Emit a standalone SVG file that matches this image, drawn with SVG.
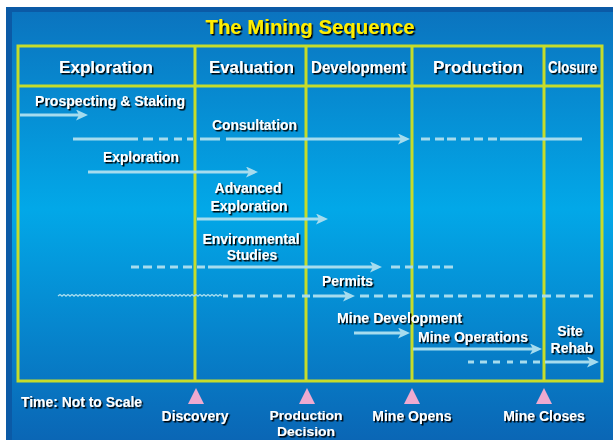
<svg xmlns="http://www.w3.org/2000/svg" width="613" height="440" viewBox="0 0 613 440">
<defs>
<linearGradient id="bg" x1="0" y1="0" x2="0" y2="1">
<stop offset="0" stop-color="#0b74bf"/>
<stop offset="0.46" stop-color="#02a8e8"/>
<stop offset="1" stop-color="#0a66b5"/>
</linearGradient>
<filter id="sh" x="-10%" y="-30%" width="120%" height="160%">
<feDropShadow dx="1.5" dy="1.5" stdDeviation="0.3" flood-color="#000" flood-opacity="1"/>
</filter>
<marker id="ah" viewBox="0 0 12 11" refX="5" refY="5.5" markerWidth="12" markerHeight="11" markerUnits="userSpaceOnUse" orient="auto">
<path d="M0,0 L12,5.5 L0,11 L3,5.5 Z" fill="#a6dcee"/>
</marker>
</defs>
<style>
text{font-family:"Liberation Sans",Arial,sans-serif;font-weight:bold;fill:#fff;filter:url(#sh)}
.t{font-size:20px;fill:#ffee00}
.h{font-size:17px}
.b{font-size:14px}
.s{font-size:13px}
.grid{fill:none;stroke:#c6dc2a;stroke-width:3}
.ln{fill:none;stroke:#a6dcee;stroke-width:3}
.arr{marker-end:url(#ah)}
.wv{fill:none;stroke:#a6dcee;stroke-width:1.4}
.tri{fill:#eeaad0}
</style>
<rect x="6" y="7" width="607" height="433" fill="#0b5aa6"/>
<rect x="12" y="12" width="601" height="428" fill="url(#bg)"/>
<g id="title"><text class="t" x="310" y="34" text-anchor="middle" textLength="209" lengthAdjust="spacingAndGlyphs">The Mining Sequence</text></g>
<g id="grid">
<rect class="grid" x="18" y="46" width="584" height="335"/>
<path class="grid" d="M18,86 H602 M195,46 V381 M306,46 V381 M412,46 V381 M544,46 V381"/>
</g>
<g id="phase-exploration"><text class="h" x="106" y="73" text-anchor="middle" textLength="94" lengthAdjust="spacingAndGlyphs">Exploration</text></g>
<g id="phase-evaluation"><text class="h" x="251.5" y="73" text-anchor="middle" textLength="85" lengthAdjust="spacingAndGlyphs">Evaluation</text></g>
<g id="phase-development"><text class="h" x="358.5" y="73" text-anchor="middle" textLength="95" lengthAdjust="spacingAndGlyphs">Development</text></g>
<g id="phase-production"><text class="h" x="478" y="73" text-anchor="middle" textLength="90" lengthAdjust="spacingAndGlyphs">Production</text></g>
<g id="phase-closure"><text class="h" x="572.5" y="73" text-anchor="middle" textLength="49" lengthAdjust="spacingAndGlyphs">Closure</text></g>
<g id="connectors">
<path class="ln arr" d="M20,115 H81"/>
<path class="ln" d="M73,139 H138 M143,139 H153 M159,139 H168 M174,139 H182 M187,139 H193 M200,139 H220"/>
<path class="ln arr" d="M226,139 H403"/>
<path class="ln" d="M421,139 H430 M435,139 H444 M447,139 H456 M461,139 H470 M474,139 H483 M488,139 H497 M500,139 H582"/>
<path class="ln arr" d="M88,172 H251"/>
<path class="ln arr" d="M197,219 H321"/>
<path class="ln" d="M131,267 H139 M143,267 H152 M157,267 H165 M170,267 H178 M183,267 H192 M197,267 H205"/>
<path class="ln arr" d="M208,267 H375"/>
<path class="ln" d="M391,267 H400 M405,267 H413 M418,267 H428 M432,267 H440 M444,267 H453"/>
<path class="wv" d="M58,296 l2,-1.5 2,1.5 2,-1.5 2,1.5 2,-1.5 2,1.5 2,-1.5 2,1.5 2,-1.5 2,1.5 2,-1.5 2,1.5 2,-1.5 2,1.5 2,-1.5 2,1.5 2,-1.5 2,1.5 2,-1.5 2,1.5 2,-1.5 2,1.5 2,-1.5 2,1.5 2,-1.5 2,1.5 2,-1.5 2,1.5 2,-1.5 2,1.5 2,-1.5 2,1.5 2,-1.5 2,1.5 2,-1.5 2,1.5 2,-1.5 2,1.5 2,-1.5 2,1.5 2,-1.5 2,1.5 2,-1.5 2,1.5 2,-1.5 2,1.5 2,-1.5 2,1.5 2,-1.5 2,1.5 2,-1.5 2,1.5 2,-1.5 2,1.5 2,-1.5 2,1.5 2,-1.5 2,1.5 2,-1.5 2,1.5 2,-1.5 2,1.5 2,-1.5 2,1.5 2,-1.5 2,1.5 2,-1.5 2,1.5 2,-1.5 2,1.5 2,-1.5 2,1.5 2,-1.5 2,1.5 2,-1.5 2,1.5 2,-1.5 2,1.5 2,-1.5 2,1.5 2,-1.5 2,1.5"/>
<path class="ln" d="M223,296 H228 M233,296 H243 M247,296 H255 M260,296 H268 M273,296 H282 M287,296 H295 M302,296 H310"/>
<path class="ln arr" d="M313,296 H348"/>
<path class="ln" d="M360,296 H597" stroke-dasharray="9 5"/>
<path class="ln arr" d="M354,333 H403"/>
<path class="ln arr" d="M413,349 H535"/>
<path class="ln" d="M468,362 H474 M480,362 H487 M493,362 H500 M507,362 H513 M520,362 H527 M533,362 H540"/>
<path class="ln arr" d="M545,362 H592"/>
</g>
<g id="act-prospecting"><text class="b" x="35" y="106" textLength="150" lengthAdjust="spacingAndGlyphs">Prospecting &amp; Staking</text></g>
<g id="act-consultation"><text class="b" x="212" y="130" textLength="85" lengthAdjust="spacingAndGlyphs">Consultation</text></g>
<g id="act-exploration"><text class="b" x="103" y="162" textLength="76" lengthAdjust="spacingAndGlyphs">Exploration</text></g>
<g id="act-advanced"><text class="b" x="248" y="193" text-anchor="middle">Advanced</text><text class="b" x="249" y="211" text-anchor="middle">Exploration</text></g>
<g id="act-environmental"><text class="b" x="251" y="244" text-anchor="middle">Environmental</text><text class="b" x="252" y="260" text-anchor="middle">Studies</text></g>
<g id="act-permits"><text class="b" x="322" y="286" textLength="51" lengthAdjust="spacingAndGlyphs">Permits</text></g>
<g id="act-minedev"><text class="b" x="337" y="323" textLength="125" lengthAdjust="spacingAndGlyphs">Mine Development</text></g>
<g id="act-mineops"><text class="b" x="418" y="342" textLength="110" lengthAdjust="spacingAndGlyphs">Mine Operations</text></g>
<g id="act-rehab"><text class="b" x="570" y="336" text-anchor="middle">Site</text><text class="b" x="572" y="353" text-anchor="middle">Rehab</text></g>
<g id="time-note"><text class="b" x="21" y="407" textLength="121" lengthAdjust="spacingAndGlyphs">Time: Not to Scale</text></g>
<g id="ms-discovery"><polygon class="tri" points="196,388 188,404 204,404"/><text class="b" x="195" y="421" text-anchor="middle">Discovery</text></g>
<g id="ms-decision"><polygon class="tri" points="307,388 299,404 315,404"/><text class="s" x="306" y="420" text-anchor="middle" textLength="73" lengthAdjust="spacingAndGlyphs">Production</text><text class="s" x="306" y="435.5" text-anchor="middle" textLength="58" lengthAdjust="spacingAndGlyphs">Decision</text></g>
<g id="ms-opens"><polygon class="tri" points="412,388 404,404 420,404"/><text class="b" x="412" y="421" text-anchor="middle">Mine Opens</text></g>
<g id="ms-closes"><polygon class="tri" points="544,388 536,404 552,404"/><text class="b" x="544" y="421" text-anchor="middle">Mine Closes</text></g>
</svg>
